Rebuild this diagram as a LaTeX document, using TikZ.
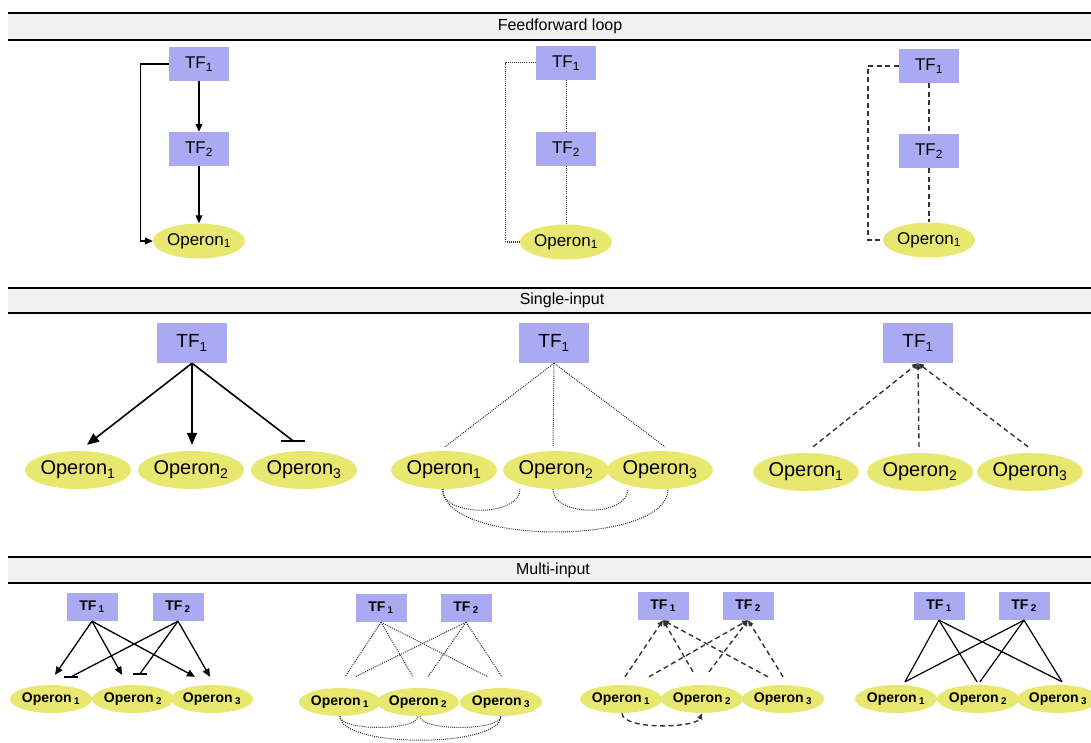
\documentclass[tikz,border=0pt]{standalone}
\usepackage{fontspec}
\setmainfont{Liberation Sans}
\usetikzlibrary{
    arrows.meta,
    shapes.geometric % ellipse
}
\definecolor{tfblue}{RGB}{170,170,242}
\definecolor{opyellow}{RGB}{232,232,112}
\definecolor{barfill}{RGB}{241,241,241}

\begin{document}
\begin{tikzpicture}[x=1pt,y=-1pt,
    tf/.style={fill=tfblue, inner sep=0pt, minimum width=60pt, minimum height=34pt, font=\fontsize{17}{17}\selectfont},
    op/.style={ellipse, fill=opyellow, inner sep=0pt, minimum width=92pt, minimum height=35pt, font=\fontsize{17}{17}\selectfont},
    act/.style={line width=1.3pt, -{Triangle[length=8pt,width=7pt]}},
    dots/.style={line width=1pt, black!80, dash pattern=on 1pt off 1.1pt},
    dashes/.style={line width=1.4pt, black!80, dash pattern=on 5pt off 3.5pt},
    back/.style={-{Triangle[length=6pt,width=5pt]}},
    tbar/.style={line width=2.5pt}]
    \useasboundingbox (0,0) rectangle (1091,743);
    % header bars
    \foreach \ya/\yb/\title/\tx in {13/40/Feedforward loop/560, 288/313/Single-input/562, 557/583/Multi-input/553} {
        \fill[barfill] (8,\ya) rectangle (1091,\yb);
        \draw[line width=2.5pt] (8,\ya) -- (1091,\ya) (8,\yb) -- (1091,\yb);
        \node[font=\fontsize{16}{16}\selectfont] (hdr\ya) at (\tx,{(\ya+\yb)/2}) {\title};
    }

    % feedforward loop
    \node[tf] (a1) at (199,64) {TF\textsubscript{1}};
    \node[tf] (a2) at (199,149) {TF\textsubscript{2}};
    \node[op] (ao) at (199,241) {Operon\textsubscript{1}};
    \draw[act] (a1) -- (a2);
    \draw[act] (a2) -- (ao);
    \draw[act] (a1.west) -- ++(-28,0) |- (ao.west);

    \node[tf] (b1) at (566,63) {TF\textsubscript{1}};
    \node[tf] (b2) at (566,149) {TF\textsubscript{2}};
    \node[op] (bo) at (566,242) {Operon\textsubscript{1}};
    \draw[dots] (b1) -- (b2);
    \draw[dots] (b2) -- (bo);
    \draw[dots] (b1.west) -- ++(-30,0) |- (bo.west);

    \node[tf] (c1) at (929,66) {TF\textsubscript{1}};
    \node[tf] (c2) at (929,151) {TF\textsubscript{2}};
    \node[op] (co) at (929,240) {Operon\textsubscript{1}};
    \draw[dashes] (c1) -- (c2);
    \draw[dashes] (c2) -- (co);
    \draw[dashes] (c1.west) -- ++(-31,0) |- (co.west);

    % single input
    \begin{scope}[tf/.append style={minimum width=70pt, minimum height=40pt, font=\fontsize{19}{19}\selectfont},
                  op/.append style={minimum width=106pt, minimum height=38pt, font=\fontsize{20}{20}\selectfont},
                  bigact/.style={line width=1.6pt, -{Triangle[length=12pt,width=10pt]}}]
        \node[tf] (s) at (192,343) {TF\textsubscript{1}};
        \foreach \i/\x in {1/78,2/191,3/304}
            \node[op] (s\i) at (\x,470) {Operon\textsubscript{\i}};
        \draw[bigact] (s.south) -- ([shift={(9,-6)}]s1.north);
        \draw[bigact] (s.south) -- ([shift={(1,-6)}]s2.north);
        \draw[line width=1.6pt] (s.south) -- ([shift={(-11,-10)}]s3.north) coordinate (s3t);
        \draw[tbar] ([xshift=-12]s3t) -- ([xshift=12]s3t);

        \node[tf] (t) at (554,343) {TF\textsubscript{1}};
        \foreach \i/\x in {1/444,2/556,3/660}
            \node[op] (t\i) at (\x,470) {Operon\textsubscript{\i}};
        \foreach \i/\dx in {1/1,2/-3,3/5}
            \draw[dots] (t.south) -- ([shift={(\dx,-4)}]t\i.north);
        \draw[dots] ([xshift=-2]t1.south) .. controls +(0,28) and +(0,28) .. ([xshift=-36]t2.south);
        \draw[dots] ([xshift=-3]t2.south) .. controls +(0,28) and +(0,28) .. ([xshift=-32]t3.south);
        \draw[dots] ([xshift=-1]t1.south) .. controls +(0,57) and +(0,57) .. ([xshift=8]t3.south);

        \node[tf] (u) at (918,343) {TF\textsubscript{1}};
        \foreach \i/\x in {1/806,2/920,3/1030}
            \node[op] (u\i) at (\x,472) {Operon\textsubscript{\i}};
        \foreach \i/\dx in {1/7,2/-1,3/-2}
            \draw[dashes, back] ([shift={(\dx,-6)}]u\i.north) -- (u.south);
    \end{scope}

    % multi input
    \begin{scope}[tf/.append style={minimum width=51pt, minimum height=28pt, font=\bfseries\fontsize{14}{14}\selectfont},
                  op/.append style={minimum width=77pt, minimum height=28pt, font=\bfseries\fontsize{14}{14}\selectfont}]
        \node[tf] (m1) at (92,607) {TF\,\textsubscript{1}};
        \node[tf] (m2) at (178,607) {TF\,\textsubscript{2}};
        \foreach \i/\x in {1/51,2/133,3/212}
            \node[op] (n\i) at (\x,699) {Operon\,\textsubscript{\i}};
        \foreach \i/\dx/\dy in {1/4/-10,2/-11/-10,3/-17/-8}
            \draw[act] (m1.south) -- ([shift={(\dx,\dy)}]n\i.north);
        \draw[act] (m2.south) -- ([shift={(-2,-8)}]n3.north);
        \foreach \i/\dx/\dy in {1/20/-8,2/7/-11} {
            \draw[line width=1.3pt] (m2.south) -- ([shift={(\dx,\dy)}]n\i.north) coordinate (bar\i);
            \draw[tbar] ([xshift=-7]bar\i) -- ([xshift=7]bar\i);
        }

        \node[tf] (p1) at (381,608) {TF\,\textsubscript{1}};
        \node[tf] (p2) at (466,608) {TF\,\textsubscript{2}};
        \foreach \i/\x in {1/340,2/418,3/501}
            \node[op] (q\i) at (\x,702) {Operon\,\textsubscript{\i}};
        \foreach \i/\dx in {1/5,2/-5,3/-13}
            \draw[dots] (p1.south) -- ([shift={(\dx,-11)}]q\i.north);
        \foreach \i/\dx in {1/15,2/10,3/1}
            \draw[dots] (p2.south) -- ([shift={(\dx,-11)}]q\i.north);
        \draw[dots] (q1.south) .. controls +(0,15) and +(0,15) .. (q2.south);
        \draw[dots] ([xshift=2]q2.south) .. controls +(0,15) and +(0,15) .. (q3.south);
        \draw[dots] (q1.south) .. controls +(0,32) and +(0,32) .. (q3.south);

        \node[tf] (v1) at (663,606) {TF\,\textsubscript{1}};
        \node[tf] (v2) at (748,606) {TF\,\textsubscript{2}};
        \foreach \i/\x in {1/621,2/702,3/783}
            \node[op] (w\i) at (\x,699) {Operon\,\textsubscript{\i}};
        \foreach \i/\dx/\dy in {1/4/-8,2/-9/-13,3/-15/-8}
            \draw[dashes, back] ([shift={(\dx,\dy)}]w\i.north) -- (v1.south);
        \foreach \i/\dx/\dy in {1/28/-8,2/7/-13,3/0/-8}
            \draw[dashes, back] ([shift={(\dx,\dy)}]w\i.north) -- (v2.south);
        \draw[dashes, back] ([xshift=1]w1.south) .. controls +(0,17) and +(-6,15) .. (w2.south);

        \node[tf] (x1) at (939,606) {TF\,\textsubscript{1}};
        \node[tf] (x2) at (1024,606) {TF\,\textsubscript{2}};
        \foreach \i/\x in {1/896,2/978,3/1058}
            \node[op] (y\i) at (\x,699) {Operon\,\textsubscript{\i}};
        \foreach \i/\dx in {1/9,2/-1,3/4}
            \draw[line width=1.2pt] (x1.south) -- ([shift={(\dx,-3)}]y\i.north);
        \foreach \i/\dx in {1/9,2/2,3/4}
            \draw[line width=1.2pt] (x2.south) -- ([shift={(\dx,-3)}]y\i.north);
    \end{scope}
\end{tikzpicture}
\end{document}
